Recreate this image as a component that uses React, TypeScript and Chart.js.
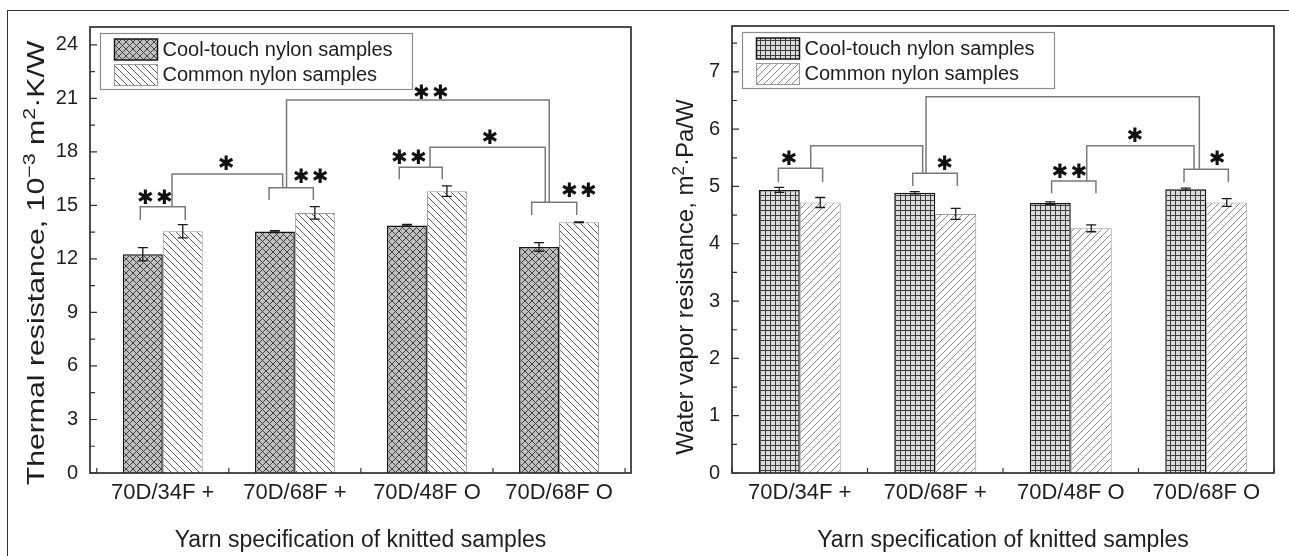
import React, { useEffect, useRef } from "react";
import { Chart, registerables } from "chart.js";
Chart.register(...registerables);

// ---------- data ----------
const categories = ["70D/34F +", "70D/68F +", "70D/48F O", "70D/68F O"];
const seriesNames = ["Cool-touch nylon samples", "Common nylon samples"];

const thermalCool = [12.26, 13.53, 13.88, 12.67];
const thermalCoolErr = [0.37, 0.05, 0.05, 0.24];
const thermalCommon = [13.55, 14.58, 15.8, 14.06];
const thermalCommonErr = [0.37, 0.35, 0.29, 0.02];

const vaporCool = [4.94, 4.89, 4.71, 4.95];
const vaporCoolErr = [0.044, 0.02, 0.02, 0.02];
const vaporCommon = [4.72, 4.52, 4.27, 4.72];
const vaporCommonErr = [0.087, 0.096, 0.06, 0.067];

const thermalTicks = [0, 3, 6, 9, 12, 15, 18, 21, 24];
const thermalMinorTicks = [1.5, 4.5, 7.5, 10.5, 13.5, 16.5, 19.5, 22.5];
const vaporTicks = [0, 1, 2, 3, 4, 5, 6, 7];
const vaporMinorTicks = [0.5, 1.5, 2.5, 3.5, 4.5, 5.5, 6.5, 7.5];

// axis titles: [text, isSuperscript]
const thermalTitle: [string, boolean][] = [
  ["Thermal resistance, 10", false], ["\u22123", true], [" m", false], ["2", true], ["\u00B7K/W", false],
];
const vaporTitle: [string, boolean][] = [
  ["Water vapor resistance, m", false], ["2", true], ["\u00B7Pa/W", false],
];
const xTitle = "Yarn specification of knitted samples";

// significance brackets (data units): legs at x1/x2 rising from y1/y2 to top
const thermalBrackets = [
  { x1: -0.17, x2: 0.17, y1: 14.18, y2: 14.18, top: 14.93, label: "**", lx: -0.06, ly: 15.36 },
  { x1: 0.805, x2: 1.14, y1: 15.3, y2: 15.3, top: 15.99, label: "**", lx: 1.12, ly: 16.52 },
  { x1: 0.07, x2: 0.908, y1: 14.93, y2: 15.99, top: 16.76, label: "*", lx: 0.48, ly: 17.26 },
  { x1: 1.79, x2: 2.116, y1: 16.46, y2: 16.46, top: 17.14, label: "**", lx: 1.864, ly: 17.6 },
  { x1: 2.793, x2: 3.134, y1: 14.46, y2: 14.46, top: 15.17, label: "**", lx: 3.15, ly: 15.77 },
  { x1: 2.023, x2: 2.896, y1: 17.14, y2: 15.17, top: 18.26, label: "*", lx: 2.477, ly: 18.76 },
  { x1: 0.937, x2: 2.926, y1: 15.99, y2: 15.17, top: 20.91, label: "**", lx: 2.03, ly: 21.28 },
];
const vaporBrackets = [
  { x1: -0.158, x2: 0.169, y1: 5.08, y2: 5.08, top: 5.317, label: "*", lx: -0.08, ly: 5.47 },
  { x1: 0.834, x2: 1.163, y1: 5.01, y2: 5.01, top: 5.229, label: "*", lx: 1.07, ly: 5.37 },
  { x1: 0.081, x2: 0.907, y1: 5.317, y2: 5.229, top: 5.711, label: "", lx: 0, ly: 0 },
  { x1: 1.859, x2: 2.186, y1: 4.88, y2: 4.88, top: 5.095, label: "**", lx: 1.99, ly: 5.24 },
  { x1: 2.836, x2: 3.163, y1: 5.08, y2: 5.08, top: 5.299, label: "*", lx: 3.08, ly: 5.47 },
  { x1: 2.118, x2: 2.91, y1: 5.095, y2: 5.299, top: 5.711, label: "*", lx: 2.474, ly: 5.87 },
  { x1: 0.932, x2: 2.949, y1: 5.229, y2: 5.299, top: 6.566, label: "", lx: 0, ly: 0 },
];

// ---------- styling helpers ----------
const FONT = '"Liberation Sans", Arial, Helvetica, sans-serif';
const INK = "#1e1e1e";

function makePattern(kind: string): CanvasPattern {
  const c = document.createElement("canvas");
  const g = c.getContext("2d")!;
  let s = 7;
  if (kind === "diamond") {
    s = 7;
    c.width = s; c.height = s;
    g.fillStyle = "#c0c0c0"; g.fillRect(0, 0, s, s);
    g.strokeStyle = "#404040"; g.lineWidth = 1;
    g.beginPath();
    for (let k = -1; k <= 1; k++) {
      g.moveTo(k * s, 0); g.lineTo(k * s + s, s);
      g.moveTo(k * s, s); g.lineTo(k * s + s, 0);
    }
    g.stroke();
  } else if (kind === "back") {
    s = 7;
    c.width = s; c.height = s;
    g.fillStyle = "#ffffff"; g.fillRect(0, 0, s, s);
    g.strokeStyle = "#5a5a5a"; g.lineWidth = 1;
    g.beginPath();
    for (let k = -1; k <= 1; k++) { g.moveTo(k * s, 0); g.lineTo(k * s + s, s); }
    g.stroke();
  } else if (kind === "grid") {
    s = 5;
    c.width = s; c.height = s;
    g.fillStyle = "#dcdcdc"; g.fillRect(0, 0, s, s);
    g.fillStyle = "#3c3c3c";
    g.fillRect(0, 0, s, 1); g.fillRect(0, 0, 1, s);
  } else {
    s = 7;
    c.width = s; c.height = s;
    g.fillStyle = "#ffffff"; g.fillRect(0, 0, s, s);
    g.strokeStyle = "#8a8a8a"; g.lineWidth = 1;
    g.beginPath();
    for (let k = -1; k <= 1; k++) { g.moveTo(k * s, s); g.lineTo(k * s + s, 0); }
    g.stroke();
  }
  return g.createPattern(c, "repeat")!;
}

type Bracket = { x1: number; x2: number; y1: number; y2: number; top: number; label: string; lx: number; ly: number };

type Spec = {
  cool: number[]; coolErr: number[]; common: number[]; commonErr: number[];
  ticks: number[]; minor: number[]; yMax: number; xMin: number; xMax: number;
  yTitle: [string, boolean][]; brackets: Bracket[]; coolPattern: string; commonPattern: string;
  width: number; padTop: number; padRight: number; yWidth: number;
  titleX: number; titleY: number; titleStretch: number;
};

function buildConfig(sp: Spec): any {
  const coolFill = makePattern(sp.coolPattern);
  const commonFill = makePattern(sp.commonPattern);
  const values = [sp.cool, sp.common];
  const errors = [sp.coolErr, sp.commonErr];

  const decor = {
    id: "decor",
    afterDatasetsDraw(chart: any) {
      const { ctx, chartArea: a, scales } = chart;
      const xs = scales.x, ys = scales.y;
      ctx.save();
      // error bars
      chart.data.datasets.forEach((_ds: any, di: number) => {
        const meta = chart.getDatasetMeta(di);
        meta.data.forEach((el: any, i: number) => {
          const v = values[di][i], e = errors[di][i];
          const t = ys.getPixelForValue(v + e), b = ys.getPixelForValue(v - e);
          ctx.strokeStyle = "#1a1a1a"; ctx.lineWidth = 1.3;
          ctx.beginPath();
          ctx.moveTo(el.x, t); ctx.lineTo(el.x, b);
          ctx.moveTo(el.x - 5, t); ctx.lineTo(el.x + 5, t);
          ctx.moveTo(el.x - 5, b); ctx.lineTo(el.x + 5, b);
          ctx.stroke();
        });
      });
      // frame
      ctx.strokeStyle = "#222"; ctx.lineWidth = 1.6;
      ctx.strokeRect(a.left, a.top, a.right - a.left, a.bottom - a.top);
      // inward ticks
      ctx.lineWidth = 1.2; ctx.strokeStyle = "#333";
      ctx.beginPath();
      sp.ticks.forEach((v) => { const p = ys.getPixelForValue(v); ctx.moveTo(a.left, p); ctx.lineTo(a.left + 7, p); });
      sp.minor.forEach((v) => { const p = ys.getPixelForValue(v); ctx.moveTo(a.left, p); ctx.lineTo(a.left + 5, p); });
      categories.concat([""]).forEach((_c, i) => {
        const p = xs.getPixelForValue(i - 0.5); ctx.moveTo(p, a.bottom); ctx.lineTo(p, a.bottom - 5);
      });
      ctx.stroke();
      // brackets
      ctx.strokeStyle = "#7a7a7a"; ctx.lineWidth = 1.5;
      sp.brackets.forEach((br) => {
        ctx.beginPath();
        ctx.moveTo(xs.getPixelForValue(br.x1), ys.getPixelForValue(br.y1));
        ctx.lineTo(xs.getPixelForValue(br.x1), ys.getPixelForValue(br.top));
        ctx.lineTo(xs.getPixelForValue(br.x2), ys.getPixelForValue(br.top));
        ctx.lineTo(xs.getPixelForValue(br.x2), ys.getPixelForValue(br.y2));
        ctx.stroke();
      });
      ctx.fillStyle = "#111";
      ctx.font = 'bold 20px "DejaVu Sans", sans-serif';
      ctx.textAlign = "center"; ctx.textBaseline = "middle";
      sp.brackets.forEach((br) => {
        const n = br.label.length;
        const cx = xs.getPixelForValue(br.lx), cy = ys.getPixelForValue(br.ly);
        for (let k = 0; k < n; k++) ctx.fillText("\u2731", cx + (k - (n - 1) / 2) * 19, cy);
      });
      // legend
      const bx = a.left + 10.5, by = a.top + 6.5, bw = 312, bh = 56;
      ctx.fillStyle = "#fff"; ctx.fillRect(bx, by, bw, bh);
      ctx.strokeStyle = "#8c8c8c"; ctx.lineWidth = 1.2; ctx.strokeRect(bx, by, bw, bh);
      chart.data.datasets.forEach((ds: any, di: number) => {
        const sy = by + 5.5 + di * 25.5;
        ctx.fillStyle = ds.backgroundColor; ctx.fillRect(bx + 14, sy, 43, 21);
        ctx.strokeStyle = ds.borderColor; ctx.lineWidth = ds.borderWidth; ctx.strokeRect(bx + 14, sy, 43, 21);
        ctx.fillStyle = INK; ctx.font = `20px ${FONT}`; ctx.textAlign = "left"; ctx.textBaseline = "middle";
        ctx.fillText(ds.label, bx + 62, sy + 11);
      });
      // y-axis title with superscripts
      const big = 24, small = 17;
      ctx.translate(sp.titleX, sp.titleY);
      ctx.rotate(-Math.PI / 2);
      ctx.scale(sp.titleStretch, 1);
      ctx.textAlign = "left"; ctx.textBaseline = "alphabetic"; ctx.fillStyle = INK;
      let total = 0;
      sp.yTitle.forEach(([t, sup]) => { ctx.font = `${sup ? small : big}px ${FONT}`; total += ctx.measureText(t).width; });
      let cx = -total / 2;
      const base = big * 0.716 / 2;
      sp.yTitle.forEach(([t, sup]) => {
        ctx.font = `${sup ? small : big}px ${FONT}`;
        ctx.fillText(t, cx, sup ? base - 9 : base);
        cx += ctx.measureText(t).width;
      });
      ctx.restore();
    },
  };

  return {
    type: "bar",
    data: {
      datasets: [
        {
          label: seriesNames[0], data: sp.cool.map((v, i) => ({ x: i, y: v })),
          backgroundColor: coolFill, borderColor: "#151515", borderWidth: 1.5,
          categoryPercentage: 0.605, barPercentage: 1,
        },
        {
          label: seriesNames[1], data: sp.common.map((v, i) => ({ x: i, y: v })),
          backgroundColor: commonFill, borderColor: "#9a9a9a", borderWidth: 1,
          categoryPercentage: 0.605, barPercentage: 1,
        },
      ],
    },
    options: {
      animation: false, responsive: false, devicePixelRatio: 1,
      layout: { padding: { left: 0, right: sp.padRight, top: sp.padTop, bottom: 0 } },
      plugins: { legend: { display: false }, tooltip: { enabled: false } },
      scales: {
        x: {
          type: "linear", min: sp.xMin, max: sp.xMax, offset: false,
          grid: { display: false, drawTicks: false }, border: { display: false },
          afterBuildTicks: (s: any) => { s.ticks = categories.map((_c, i) => ({ value: i })); },
          ticks: {
            callback: (v: any) => categories[Math.round(v)] ?? "", color: INK,
            font: { size: 22, family: FONT }, padding: 7, maxRotation: 0, autoSkip: false,
          },
          title: { display: true, text: xTitle, color: INK, font: { size: 23, family: FONT }, padding: { top: 0, bottom: 2 } },
          afterFit: (s: any) => { s.height = 83; },
        },
        y: {
          min: 0, max: sp.yMax,
          grid: { display: false, drawTicks: false }, border: { display: false },
          afterBuildTicks: (s: any) => { s.ticks = sp.ticks.map((v) => ({ value: v })); },
          ticks: { color: INK, font: { size: 20, family: FONT }, padding: 12 },
          title: { display: false },
          afterFit: (s: any) => { s.width = sp.yWidth; },
        },
      },
    },
    plugins: [decor],
  };
}

function Panel({ left, spec }: { left: number; spec: Spec }) {
  const ref = useRef<HTMLCanvasElement>(null);
  useEffect(() => {
    const chart = new Chart(ref.current!, buildConfig(spec));
    return () => chart.destroy();
  }, []);
  return (
    <canvas
      ref={ref}
      width={spec.width}
      height={556}
      style={{ position: "absolute", left, top: 0, width: spec.width, height: 556, display: "block" }}
    />
  );
}

const leftSpec: Spec = {
  cool: thermalCool, coolErr: thermalCoolErr, common: thermalCommon, commonErr: thermalCommonErr,
  ticks: thermalTicks, minor: thermalMinorTicks, yMax: 25, xMin: -0.551, xMax: 3.545,
  yTitle: thermalTitle, brackets: thermalBrackets, coolPattern: "diamond", commonPattern: "back",
  width: 645, padTop: 27, padRight: 14, yWidth: 90, titleX: 35, titleY: 263, titleStretch: 1.26,
};
const rightSpec: Spec = {
  cool: vaporCool, coolErr: vaporCoolErr, common: vaporCommon, commonErr: vaporCommonErr,
  ticks: vaporTicks, minor: vaporMinorTicks, yMax: 7.8, xMin: -0.5, xMax: 3.5,
  yTitle: vaporTitle, brackets: vaporBrackets, coolPattern: "grid", commonPattern: "fwd",
  width: 644, padTop: 26, padRight: 15, yWidth: 87, titleX: 39, titleY: 277, titleStretch: 1.0,
};

export default function App() {
  return (
    <div style={{ position: "absolute", left: 0, top: 0, width: 1289, height: 556, background: "#fff", overflow: "hidden" }}>
      <div style={{ position: "absolute", left: 7, top: 10, width: 1282, height: 546, borderTop: "1.5px solid #333", borderLeft: "1.5px solid #333", boxSizing: "border-box" }} />
      <Panel left={0} spec={leftSpec} />
      <Panel left={645} spec={rightSpec} />
    </div>
  );
}
